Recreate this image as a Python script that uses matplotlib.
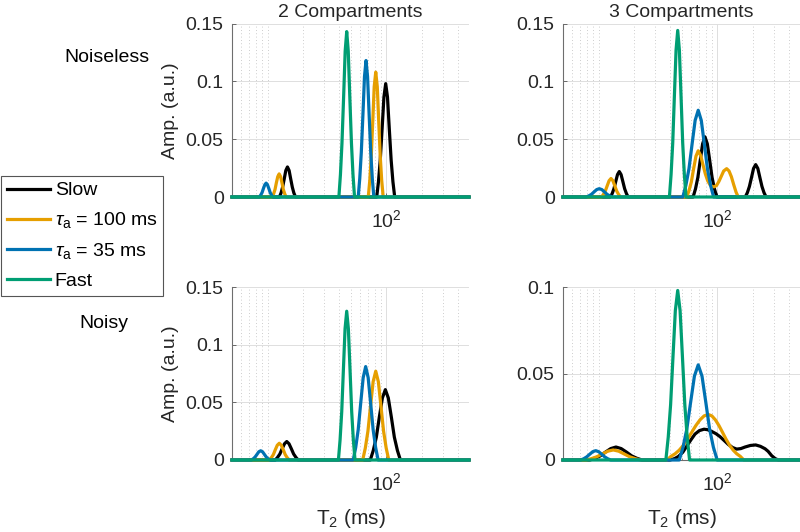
import numpy as np
import matplotlib
matplotlib.use('Agg')
import matplotlib.pyplot as plt
from matplotlib.ticker import FixedLocator, FuncFormatter, NullFormatter, LogFormatterSciNotation

plt.rcParams['font.family'] = ['Liberation Sans', 'DejaVu Sans']
plt.rcParams['mathtext.fontset'] = 'custom'
plt.rcParams['mathtext.rm'] = 'Liberation Sans'
plt.rcParams['mathtext.it'] = 'Liberation Sans:italic'
plt.rcParams['mathtext.bf'] = 'Liberation Sans:bold'

# ---------------- data (x values are log10(T2 / ms), amplitudes in a.u.) ----------------
series_labels = ['Slow', r'$\tau_{\rm a}$ = 100 ms', r'$\tau_{\rm a}$ = 35 ms', 'Fast']
series_colors = ['#000000', '#E69F00', '#0072B2', '#009E73']
col_titles = ['2 Compartments', '3 Compartments']
row_titles = ['Noiseless', 'Noisy']
x_limits = [5, 500]
y_limits = [[0.15, 0.15], [0.15, 0.1]]
y_ticks_full = [0, 0.05, 0.1, 0.15]
x_major_ticks = [100]
x_minor_ticks = [6, 7, 8, 9, 10, 20, 30, 40, 50, 60, 70, 80, 90, 200, 300, 400]

# Noiseless, 2 compartments
tl_slow_lt = [0.699, 1.099, 1.113, 1.126, 1.140, 1.153, 1.167, 1.181, 1.194, 1.208, 1.221, 1.235,
              1.920, 1.935, 1.950, 1.966, 1.981, 1.996, 2.011, 2.026, 2.042, 2.057, 2.072, 2.699]
tl_slow_amp = [0, 0, .0035, .0085, .0158, .0229, .026, .0229, .0158, .0085, .0035, 0,
               0, .0132, .0319, .0595, .0864, .098, .0864, .0595, .0319, .0132, 0, 0]
tl_t100_lt = [0.699, 1.038, 1.050, 1.062, 1.073, 1.085, 1.097, 1.109, 1.121, 1.132, 1.144, 1.156,
              1.849, 1.862, 1.874, 1.887, 1.899, 1.912, 1.925, 1.937, 1.950, 1.962, 1.975, 2.699]
tl_t100_amp = [0, 0, .0027, .0065, .0121, .0176, .020, .0176, .0121, .0065, .0027, 0,
               0, .0146, .0351, .0656, .0953, .108, .0953, .0656, .0351, .0146, 0, 0]
tl_t35_lt = [0.699, .930, .941, .953, .964, .976, .987, .998, 1.010, 1.021, 1.033, 1.044,
             1.764, 1.777, 1.790, 1.804, 1.817, 1.830, 1.843, 1.856, 1.870, 1.883, 1.896, 2.699]
tl_t35_amp = [0, 0, .0016, .0039, .0073, .0106, .012, .0106, .0073, .0039, .0016, 0,
              0, .0159, .0384, .0716, .1041, .118, .1041, .0716, .0384, .0159, 0, 0]
tl_fast_lt = [0.699, 1.601, 1.614, 1.627, 1.641, 1.654, 1.667, 1.680, 1.693, 1.707, 1.720, 1.733, 2.699]
tl_fast_amp = [0, 0, .0193, .0465, .0868, .1261, .143, .1261, .0868, .0465, .0193, 0, 0]

# Noiseless, 3 compartments
tr_slow_lt = [0.699, 1.099, 1.114, 1.129, 1.144, 1.159, 1.174, 1.189, 1.204, 1.219, 1.234, 1.249,
              1.797, 1.817, 1.837, 1.857, 1.877, 1.897, 1.917, 1.937, 1.957, 1.977, 1.997,
              2.237, 2.255, 2.272, 2.290, 2.307, 2.325, 2.343, 2.360, 2.378, 2.395, 2.413, 2.699]
tr_slow_amp = [0, 0, .003, .0072, .0134, .0194, .022, .0194, .0134, .0072, .003, 0,
               0, .007, .0169, .0316, .0459, .052, .0459, .0316, .0169, .007, 0,
               0, .0038, .0091, .017, .0247, .028, .0247, .017, .0091, .0038, 0, 0]
tr_t100_lt = [0.699, 1.024, 1.040, 1.056, 1.072, 1.088, 1.104, 1.120, 1.136, 1.152, 1.168, 1.184,
              1.743, 1.762, 1.782, 1.801, 1.821, 1.840, 1.860, 1.880, 1.900, 1.920, 1.940, 1.960,
              1.976, 1.995, 2.015, 2.035, 2.055, 2.080, 2.100, 2.120, 2.140, 2.160, 2.178, 2.699]
tr_t100_amp = [0, 0, .0022, .0052, .0097, .0141, .016, .0141, .0097, .0052, .0022, 0,
               0, .0054, .013, .0243, .0353, .040, .036, .028, .020, .014, .0105, .009,
               .0088, .010, .0135, .018, .0225, .0245, .0225, .0175, .0105, .004, 0, 0]
tr_t35_lt = [0.699, .895, .917, .939, .961, .983, 1.005, 1.027, 1.049, 1.071, 1.093, 1.115,
             1.710, 1.736, 1.762, 1.788, 1.814, 1.840, 1.866, 1.892, 1.918, 1.944, 1.970, 2.699]
tr_t35_amp = [0, 0, .001, .0023, .0044, .0064, .0072, .0064, .0044, .0023, .001, 0,
              0, .0101, .0244, .0455, .0662, .075, .0662, .0455, .0244, .0101, 0, 0]
tr_fast_lt = [0.699, 1.597, 1.611, 1.625, 1.639, 1.653, 1.667, 1.681, 1.695, 1.709, 1.723, 1.737, 2.699]
tr_fast_amp = [0, 0, .0194, .0468, .0874, .127, .144, .127, .0874, .0468, .0194, 0, 0]

# Noisy, 2 compartments
bl_slow_lt = [0.699, 1.064, 1.083, 1.103, 1.122, 1.142, 1.161, 1.180, 1.200, 1.219, 1.239, 1.258,
              1.866, 1.891, 1.917, 1.942, 1.968, 1.993, 2.018, 2.044, 2.069, 2.095, 2.120, 2.699]
bl_slow_amp = [0, 0, .0022, .0052, .0097, .0141, .016, .0141, .0097, .0052, .0022, 0,
               0, .0082, .0198, .037, .0538, .061, .0538, .037, .0198, .0082, 0, 0]
bl_t100_lt = [0.699, 1.014, 1.031, 1.048, 1.064, 1.081, 1.098, 1.115, 1.132, 1.148, 1.165, 1.182,
              1.802, 1.824, 1.846, 1.868, 1.890, 1.912, 1.934, 1.956, 1.978, 2.000, 2.022, 2.699]
bl_t100_amp = [0, 0, .002, .0047, .0088, .0128, .0145, .0128, .0088, .0047, .002, 0,
               0, .0104, .025, .0467, .0679, .077, .0679, .0467, .025, .0104, 0, 0]
bl_t35_lt = [0.699, .863, .879, .894, .910, .925, .941, .957, .972, .988, 1.003, 1.019,
             1.722, 1.743, 1.764, 1.785, 1.806, 1.827, 1.848, 1.869, 1.890, 1.911, 1.932, 2.699]
bl_t35_amp = [0, 0, .0011, .0026, .0049, .0071, .008, .0071, .0049, .0026, .0011, 0,
              0, .0109, .0263, .0492, .0714, .081, .0714, .0492, .0263, .0109, 0, 0]
bl_fast_lt = [0.699, 1.597, 1.611, 1.625, 1.639, 1.653, 1.667, 1.681, 1.695, 1.709, 1.723, 1.737, 2.699]
bl_fast_amp = [0, 0, .0174, .0419, .0783, .1138, .129, .1138, .0783, .0419, .0174, 0, 0]

# Noisy, 3 compartments
br_slow_lt = [0.699, .926, .970, 1.014, 1.058, 1.102, 1.146, 1.190, 1.234, 1.278, 1.322, 1.366,
              1.602, 1.640, 1.672, 1.710, 1.743, 1.780, 1.813, 1.850, 1.889, 1.920, 1.954, 1.990,
              2.024, 2.060, 2.094, 2.130, 2.165, 2.200, 2.235, 2.280, 2.325, 2.365, 2.404, 2.430,
              2.460, 2.490, 2.516, 2.699]
br_slow_amp = [0, 0, .001, .0024, .0046, .0066, .0075, .0066, .0046, .0024, .001, 0,
               0, .0008, .002, .0045, .008, .0118, .015, .017, .0178, .0175, .0165, .0152,
               .0135, .0112, .009, .0072, .0063, .0066, .0075, .0084, .0087, .0079, .0065, .005,
               .0025, .0008, 0, 0]
br_t100_lt = [0.699, .893, .939, .985, 1.031, 1.077, 1.123, 1.169, 1.215, 1.261, 1.307, 1.353,
              1.575, 1.610, 1.645, 1.680, 1.715, 1.750, 1.785, 1.820, 1.855, 1.890, 1.925,
              1.955, 1.985, 2.015, 2.045, 2.075, 2.105, 2.135, 2.165, 2.195, 2.225, 2.699]
br_t100_amp = [0, 0, .0008, .0019, .0035, .0051, .0058, .0051, .0035, .0019, .0008, 0,
               0, .0021, .0036, .0057, .0085, .012, .016, .0199, .0232, .0255, .0263,
               .0255, .0232, .0199, .016, .012, .0085, .0057, .0036, .0021, 0, 0]
br_t35_lt = [0.699, .848, .873, .899, .924, .950, .975, 1.000, 1.026, 1.051, 1.077, 1.102,
             1.680, 1.712, 1.744, 1.776, 1.808, 1.840, 1.872, 1.904, 1.936, 1.968, 2.000, 2.699]
br_t35_amp = [0, 0, .0007, .0018, .0033, .0048, .0054, .0048, .0033, .0018, .0007, 0,
              0, .0074, .0179, .0334, .0485, .055, .0485, .0334, .0179, .0074, 0, 0]
br_fast_lt = [0.699, 1.567, 1.587, 1.607, 1.627, 1.647, 1.667, 1.687, 1.707, 1.727, 1.747, 1.767, 2.699]
br_fast_amp = [0, 0, .0132, .0319, .0595, .0864, .098, .0864, .0595, .0319, .0132, 0, 0]

panels = [
    [[(tl_slow_lt, tl_slow_amp), (tl_t100_lt, tl_t100_amp), (tl_t35_lt, tl_t35_amp), (tl_fast_lt, tl_fast_amp)],
     [(tr_slow_lt, tr_slow_amp), (tr_t100_lt, tr_t100_amp), (tr_t35_lt, tr_t35_amp), (tr_fast_lt, tr_fast_amp)]],
    [[(bl_slow_lt, bl_slow_amp), (bl_t100_lt, bl_t100_amp), (bl_t35_lt, bl_t35_amp), (bl_fast_lt, bl_fast_amp)],
     [(br_slow_lt, br_slow_amp), (br_t100_lt, br_t100_amp), (br_t35_lt, br_t35_amp), (br_fast_lt, br_fast_amp)]],
]

# ---------------- figure ----------------
W, H = 800, 532
fig = plt.figure(figsize=(8.0, 5.32), dpi=100)

ax_rects = {
    (0, 0): (232, 23.5, 237, 173.5),
    (0, 1): (563, 23.5, 237, 173.5),
    (1, 0): (232, 287, 237, 173),
    (1, 1): (563, 287, 237, 173),
}

FS = 14
txt_color = '#262626'
handles = []
for r in range(2):
    for c in range(2):
        x0, y0, w, h = ax_rects[(r, c)]
        ax = fig.add_axes([x0 / W, 1 - (y0 + h) / H, w / W, h / H])
        ax.set_xscale('log')
        for i, (lt, amp) in enumerate(panels[r][c]):
            ln, = ax.plot(10 ** np.asarray(lt), amp, color=series_colors[i], lw=2.3,
                          solid_joinstyle='round', clip_on=False, zorder=3 + i)
            if r == 0 and c == 0:
                handles.append(ln)
        ax.set_xlim(*x_limits)
        ymax = y_limits[r][c]
        ax.set_ylim(0, ymax)
        ax.set_yticks([t for t in y_ticks_full if t <= ymax + 1e-9])
        ax.yaxis.set_major_formatter(FuncFormatter(lambda v, p: '%g' % v))
        ax.xaxis.set_major_locator(FixedLocator(x_major_ticks))
        ax.xaxis.set_minor_locator(FixedLocator(x_minor_ticks))
        ax.xaxis.set_major_formatter(LogFormatterSciNotation())
        ax.xaxis.set_minor_formatter(NullFormatter())
        ax.grid(True, which='major', axis='both', color='#dedede', lw=0.7, zorder=0)
        ax.grid(True, which='minor', axis='x', color='#bdbdbd', lw=0.6, ls=(0, (1, 3)), zorder=0)
        ax.set_axisbelow(True)
        ax.tick_params(which='major', direction='in', length=3, width=0.6, colors='#555555',
                       labelcolor=txt_color, labelsize=FS, pad=6)
        ax.tick_params(which='minor', direction='in', length=1.5, width=0.5, colors='#555555')
        ax.tick_params(axis='x', which='major', pad=9)
        for s in ['top', 'right']:
            ax.spines[s].set_visible(False)
        for s in ['left', 'bottom']:
            ax.spines[s].set_color('#6e6e6e')
            ax.spines[s].set_linewidth(0.8)
        if r == 0:
            ax.set_title(col_titles[c], fontsize=FS, color=txt_color, pad=5)
        if c == 0:
            ax.set_ylabel('Amp. (a.u.)', fontsize=FS, color=txt_color, labelpad=5)
        if r == 1:
            ax.set_xlabel(r'T$_{\rm 2}$ (ms)', fontsize=FS + 1, color=txt_color, labelpad=9)

fig.text(107 / W, 1 - 58 / H, row_titles[0], ha='center', va='center', fontsize=FS, color='#000000')
fig.text(104 / W, 1 - 323 / H, row_titles[1], ha='center', va='center', fontsize=FS, color='#000000')

leg = fig.legend(handles, series_labels, loc='upper left', bbox_to_anchor=(0.001, 1 - 176 / H),
                 bbox_transform=fig.transFigure, fontsize=FS, frameon=True, fancybox=False,
                 edgecolor='#555555', framealpha=1, borderaxespad=0, handlelength=2.25,
                 handletextpad=0.22, labelspacing=0.56, borderpad=0.3)
leg.get_frame().set_linewidth(0.8)

fig.savefig('out.png', dpi=100)
